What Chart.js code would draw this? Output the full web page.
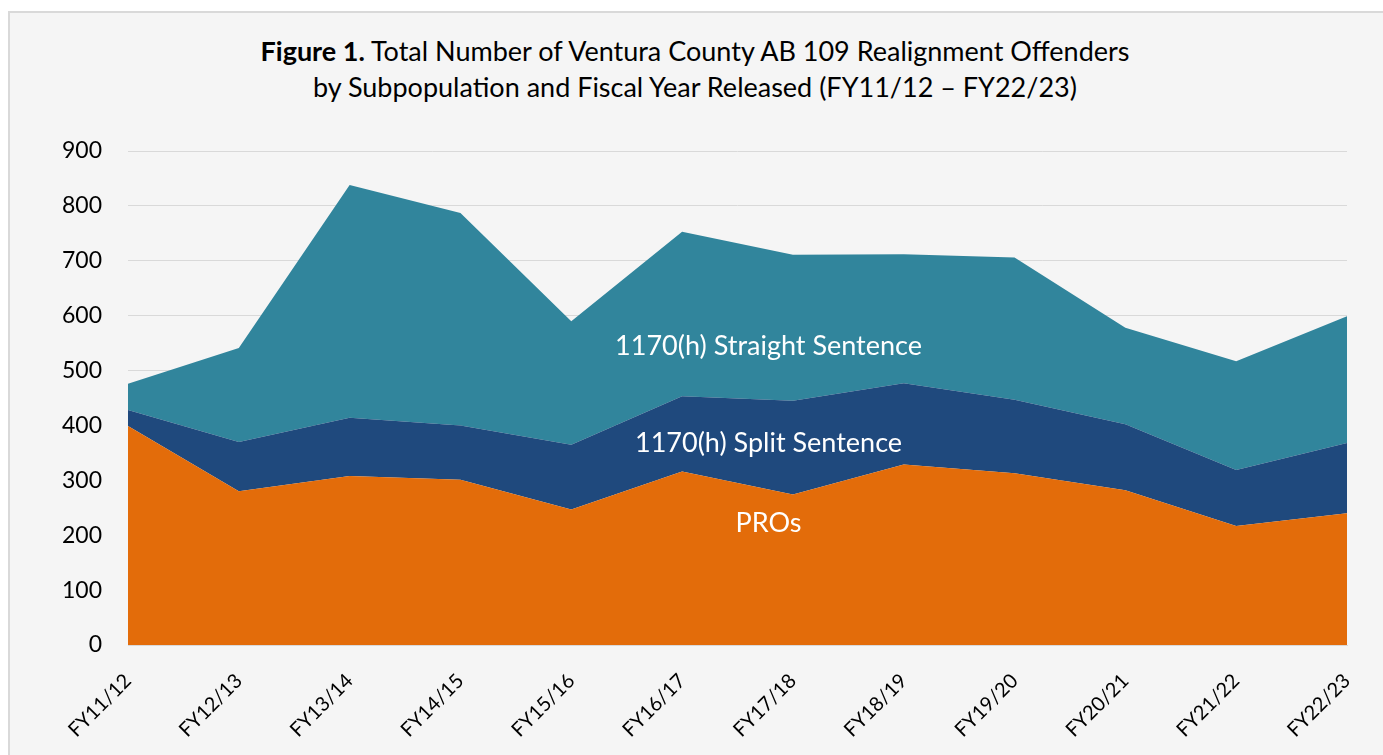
<!DOCTYPE html>
<html>
<head>
<meta charset="utf-8">
<script src="https://cdn.jsdelivr.net/npm/chart.js@4"></script>
<style>
  html, body { margin: 0; padding: 0; background: #ffffff; overflow: hidden; }
  #panel {
    position: absolute; left: 8px; top: 11px; width: 1400px; height: 760px;
    background: #f5f5f5; border-left: 2px solid #d9d9d9; border-top: 2px solid #d9d9d9;
  }
  #title {
    position: absolute; left: 0; top: 33px; width: 1390px; text-align: center;
    font-family: Lato, sans-serif; font-size: 27px; line-height: 36px; color: #000;
  }
  #wrap { position: absolute; left: 0; top: 0; width: 1383px; height: 755px; }
</style>
</head>
<body>
<div id="panel"></div>
<div id="title"><b>Figure 1.</b> Total Number of Ventura County AB 109 Realignment Offenders<br>by Subpopulation and Fiscal Year Released (FY11/12 – FY22/23)</div>
<div id="wrap"><canvas id="chart"></canvas></div>
<script>
// 类别与各子人群数据（堆叠面积图）
var categories = ['FY11/12', 'FY12/13', 'FY13/14', 'FY14/15', 'FY15/16', 'FY16/17',
	'FY17/18', 'FY18/19', 'FY19/20', 'FY20/21', 'FY21/22', 'FY22/23'];
var proValues = [399, 280, 308, 301, 247, 316, 274, 329, 313, 282, 217, 240];
var splitValues = [29, 90, 106, 99, 118, 137, 171, 148, 134, 120, 102, 128];
var straightValues = [48, 171, 424, 387, 225, 300, 266, 235, 259, 176, 198, 231];
var seriesNames = ['PROs', '1170(h) Split Sentence', '1170(h) Straight Sentence'];

// 图内文字标签：位置用类别序号和数值表示
var areaLabels = [
	{ text: '1170(h) Straight Sentence', x: 5.78, y: 545 },
	{ text: '1170(h) Split Sentence', x: 5.78, y: 368 },
	{ text: 'PROs', x: 5.78, y: 222 }
];

var labelPlugin = {
	id: 'areaLabels',
	afterDatasetsDraw: function(chart) {
		var ctx = chart.ctx;
		var xs = chart.scales.x;
		var ys = chart.scales.y;
		ctx.save();
		ctx.fillStyle = '#ffffff';
		ctx.font = '27px Lato, sans-serif';
		ctx.textAlign = 'center';
		ctx.textBaseline = 'middle';
		for (let l of areaLabels) {
			ctx.fillText(l.text, xs.getPixelForValue(l.x), ys.getPixelForValue(l.y));
		}
		ctx.restore();
	}
};

const cv = document.getElementById('chart');
var chart = new Chart(cv, {
	type: 'line',
	data: {
		labels: categories,
		datasets: [{
			label: seriesNames[0],
			data: proValues,
			backgroundColor: '#e36c0a',
			fill: 'origin'
		}, {
			label: seriesNames[1],
			data: splitValues,
			backgroundColor: '#1f497d',
			fill: '-1'
		}, {
			label: seriesNames[2],
			data: straightValues,
			backgroundColor: '#31859c',
			fill: '-1'
		}]
	},
	options: {
		responsive: true,
		maintainAspectRatio: false,
		animation: false,
		events: [],
		layout: { padding: { top: 151, right: 36, left: 0, bottom: 0 } },
		elements: {
			line: { tension: 0, borderWidth: 0 },
			point: { radius: 0 }
		},
		plugins: {
			legend: { display: false },
			tooltip: { enabled: false }
		},
		scales: {
			x: {
				offset: false,
				grid: { display: false, drawTicks: false },
				border: { display: true, color: '#d9d9d9', width: 1 },
				ticks: {
					minRotation: 45, maxRotation: 45, padding: 24,
					color: '#000', font: { family: 'Lato', size: 20 }
				},
				afterFit: function(s) {
					s.height = 110;
					s.paddingLeft = 0;
					s.paddingRight = 0;
				}
			},
			y: {
				stacked: true,
				min: 0, max: 900,
				grid: { color: '#d9d9d9', lineWidth: 1, drawTicks: false },
				border: { display: false },
				ticks: {
					stepSize: 100, padding: 26,
					color: '#000', font: { family: 'Lato', size: 23 }
				},
				afterFit: function(s) { s.width = 128; }
			}
		}
	},
	plugins: [labelPlugin]
});
</script>
</body>
</html>
